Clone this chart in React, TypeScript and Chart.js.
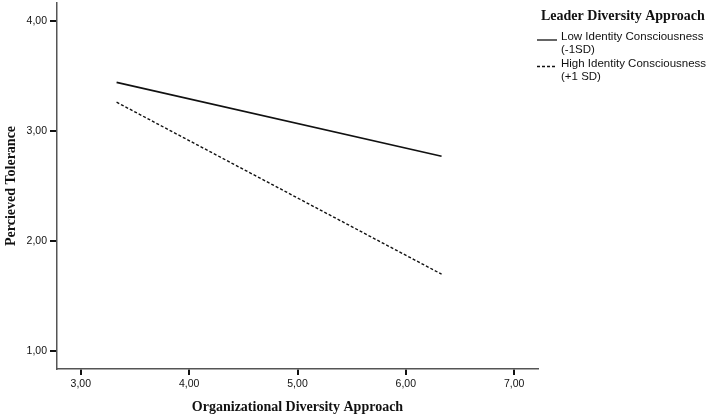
import React, { useEffect, useRef } from "react";
import { Chart, registerables } from "chart.js";

Chart.register(...registerables);

// Simple-slopes plot: moderator levels at -1SD / +1SD
const xPoints = [3.33, 6.33];
const lowIdentity = [3.44, 2.77];
const highIdentity = [3.26, 1.7];
const seriesLabels = [
  ["Low Identity Consciousness", "(-1SD)"],
  ["High Identity Consciousness", "(+1 SD)"],
];
const legendTitle = "Leader Diversity Approach";
const xTitle = "Organizational Diversity Approach";
const yTitle = "Percieved Tolerance";
const xRange = [2.78, 7.22];
const yRange = [0.84, 4.16];

const fmt = (v: number) => v.toFixed(2).replace(".", ",");

const legendPlugin = {
  id: "sideLegend",
  afterDraw(chart: any) {
    const ctx = chart.ctx as CanvasRenderingContext2D;
    ctx.save();
    ctx.fillStyle = "#111";
    ctx.textBaseline = "alphabetic";
    ctx.font = "bold 14px 'Liberation Serif'";
    ctx.fillText(legendTitle, 541, 20);
    ctx.font = "11.5px 'Liberation Sans'";
    chart.data.datasets.forEach((ds: any, i: number) => {
      const base = 40 + i * 26.5;
      const lines: string[] = seriesLabels[i];
      lines.forEach((t, j) => ctx.fillText(t, 561, base + j * 13));
      ctx.beginPath();
      ctx.strokeStyle = "#111";
      ctx.lineWidth = 1.3;
      ctx.setLineDash(ds.borderDash || []);
      ctx.moveTo(537, base);
      ctx.lineTo(557, base);
      ctx.stroke();
      ctx.setLineDash([]);
    });
    ctx.restore();
  },
};

export default function App() {
  const ref = useRef<HTMLCanvasElement>(null);

  useEffect(() => {
    if (!ref.current) return;
    const zeroPad = (s: any) => {
      s.paddingTop = 0;
      s.paddingBottom = 0;
      s.paddingLeft = 0;
      s.paddingRight = 0;
    };
    const tickFont = { family: "'Liberation Sans'", size: 10.5 };
    const chart = new Chart(ref.current, {
      type: "line",
      data: {
        datasets: [
          {
            label: seriesLabels[0].join(" "),
            data: xPoints.map((x, i) => ({ x, y: lowIdentity[i] })),
            borderColor: "#111",
            borderWidth: 1.7,
            pointRadius: 0,
            borderDash: [],
          },
          {
            label: seriesLabels[1].join(" "),
            data: xPoints.map((x, i) => ({ x, y: highIdentity[i] })),
            borderColor: "#111",
            borderWidth: 1.4,
            pointRadius: 0,
            borderDash: [3, 2],
          },
        ],
      },
      options: {
        animation: false,
        responsive: true,
        maintainAspectRatio: false,
        layout: { padding: { left: 0, top: 3, right: 171, bottom: 0 } },
        plugins: { legend: { display: false }, tooltip: { enabled: false } },
        scales: {
          x: {
            type: "linear",
            min: xRange[0],
            max: xRange[1],
            afterFit: (s: any) => {
              s.height = 51;
              zeroPad(s);
            },
            border: { display: true, color: "#555", width: 1.5 },
            grid: {
              drawOnChartArea: false,
              drawTicks: true,
              tickLength: 6,
              color: "#111",
              lineWidth: 2,
            },
            ticks: {
              stepSize: 1,
              includeBounds: false,
              padding: 3,
              color: "#111",
              font: tickFont,
              callback: (v: any) => fmt(Number(v)),
            },
            title: {
              display: true,
              text: xTitle,
              color: "#111",
              font: { family: "'Liberation Serif'", size: 14, weight: "bold" },
              padding: { top: 0, bottom: 4 },
            },
          },
          y: {
            type: "linear",
            min: yRange[0],
            max: yRange[1],
            afterFit: (s: any) => {
              s.width = 57;
              zeroPad(s);
            },
            border: { display: true, color: "#555", width: 1.5 },
            grid: {
              drawOnChartArea: false,
              drawTicks: true,
              tickLength: 7,
              color: "#111",
              lineWidth: 2,
            },
            ticks: {
              stepSize: 1,
              includeBounds: false,
              padding: 3,
              color: "#111",
              font: tickFont,
              callback: (v: any) => fmt(Number(v)),
            },
            title: {
              display: true,
              text: yTitle,
              color: "#111",
              font: { family: "'Liberation Serif'", size: 14, weight: "bold" },
              padding: { top: 3, bottom: 0 },
            },
          },
        },
      },
      plugins: [legendPlugin],
    });
    return () => chart.destroy();
  }, []);

  return (
    <div style={{ position: "absolute", left: 0, top: 0, width: 709, height: 420, background: "#fff" }}>
      <canvas ref={ref} />
    </div>
  );
}
